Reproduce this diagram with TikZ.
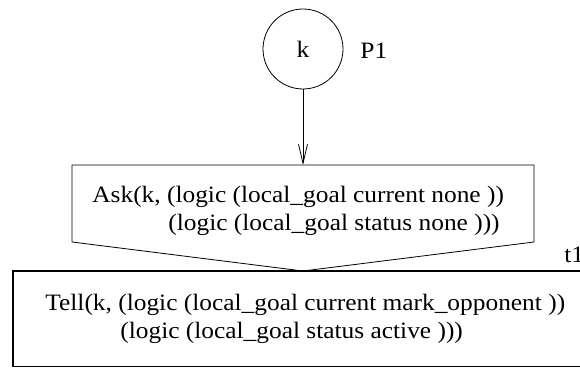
\documentclass[tikz,border=0pt]{standalone}
\usepackage{fontspec}
\setmainfont{Liberation Serif}[FakeStretch=1.08]
\usetikzlibrary{arrows.meta, positioning}

\begin{document}
\begin{tikzpicture}[x=1pt,y=1pt, line width=0.8pt,
    txt/.style={inner sep=0pt, font=\fontsize{23.5}{28}\selectfont, align=left}]
    \clip (0,0) rectangle (580,367);

    % place and its label
    \node[draw, circle, minimum size=80pt, inner sep=0pt, txt] (k) at (303,318) {k};
    \node[txt, anchor=base west] (p1) at (360,308) {P1};

    % ask box
    \coordinate (asktop) at (303,202);
    \coordinate (askpt) at (303,96);
    \draw (72,125) -- (72,202) -- (534,202) -- (534,125) -- (askpt) -- cycle;
    \node[txt, anchor=base west] (ask) at (92,136)
        {Ask(k, (logic (local\_goal current none ))\\
         \hspace*{76pt}(logic (local\_goal status none )))};

    % arc
    \draw[-{Straight Barb[length=19pt,width=9pt]}] (k) -- (asktop);

    % tell box
    \draw[line width=1.6pt] (13,0.5) rectangle (600,96);
    \node[txt, anchor=base west] (t1) at (564,105) {t1};
    \node[txt, anchor=base west] (tell) at (45,29)
        {Tell(k, (logic (local\_goal current mark\_opponent ))\\
         \hspace*{75pt}(logic (local\_goal status active )))};
\end{tikzpicture}
\end{document}
